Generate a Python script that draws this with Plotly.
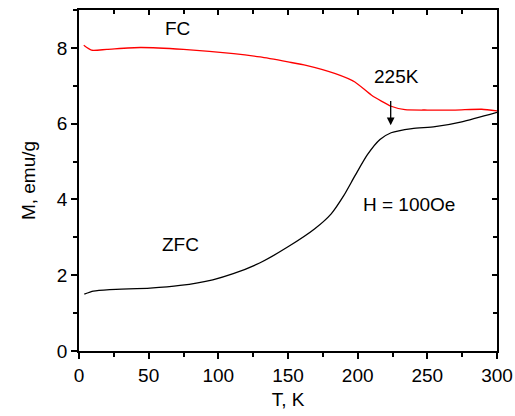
import plotly.graph_objects as go

fc_T = [3.4, 9, 20, 44, 75, 111, 130, 150, 163, 184, 198, 210, 224, 234, 250, 270, 289, 300]
fc_M = [8.07, 7.94, 7.96, 8.01, 7.96, 7.85, 7.76, 7.63, 7.54, 7.32, 7.10, 6.75, 6.46, 6.37, 6.36, 6.36, 6.38, 6.34]

zfc_T = [3.8, 10.3, 22, 51, 72.5, 96, 110.7, 130, 150, 169, 181, 190, 198, 207, 216, 224, 239, 255.5, 274.7, 300]
zfc_M = [1.50, 1.58, 1.62, 1.66, 1.73, 1.88, 2.04, 2.33, 2.75, 3.22, 3.62, 4.10, 4.62, 5.18, 5.58, 5.76, 5.87, 5.92, 6.05, 6.30]

x_ticks = [0, 50, 100, 150, 200, 250, 300]
y_ticks = [0, 2, 4, 6, 8]

font = "Liberation Sans, Arial, sans-serif"
FS = 19

fig = go.Figure()
fig.add_trace(go.Scatter(x=fc_T, y=fc_M, mode="lines", line=dict(color="#ff0000", width=1.3, shape="spline", smoothing=0.6), showlegend=False))
fig.add_trace(go.Scatter(x=zfc_T, y=zfc_M, mode="lines", line=dict(color="#000000", width=1.3, shape="spline", smoothing=0.6), showlegend=False))
fig.add_trace(go.Scatter(x=[None], y=[None], xaxis="x2", yaxis="y2", showlegend=False, hoverinfo="skip"))

axis_common = dict(showgrid=False, zeroline=False, showline=True, linecolor="black", linewidth=1.8,
                   tickcolor="black", tickwidth=1.5, automargin=False)
tfont = dict(family=font, size=FS, color="black")

fig.update_layout(
    width=515, height=416,
    margin=dict(l=79, r=18, t=10, b=65),
    paper_bgcolor="white", plot_bgcolor="white",
    font=dict(family=font, size=FS, color="black"),
    xaxis=dict(range=[0, 300], tickvals=x_ticks, ticks="outside", ticklen=6, tickfont=tfont,
               minor=dict(ticks="outside", ticklen=4, dtick=25, tickcolor="black", tickwidth=1.5),
               title=dict(text="T, K", font=tfont, standoff=8),
               **axis_common),
    yaxis=dict(range=[0, 9], tickvals=y_ticks, ticks="outside", ticklen=6, tickfont=tfont,
               minor=dict(ticks="outside", ticklen=4, dtick=1, tickcolor="black", tickwidth=1.5),
               title=dict(text="M, emu/g", font=tfont, standoff=16),
               **axis_common),
    xaxis2=dict(range=[0, 300], overlaying="x", side="top", tickvals=x_ticks, ticks="inside", ticklen=5,
                minor=dict(ticks="inside", ticklen=4, dtick=25, tickcolor="black", tickwidth=1.5),
                showticklabels=False, anchor="y2", **axis_common),
    yaxis2=dict(range=[0, 9], overlaying="y", side="right", tickvals=y_ticks, ticks="inside", ticklen=5,
                minor=dict(ticks="inside", ticklen=4, dtick=1, tickcolor="black", tickwidth=1.5),
                showticklabels=False, anchor="x2", **axis_common),
)

ann_font = dict(family=font, size=FS, color="black")
fig.add_annotation(x=71, y=8.5, text="FC", showarrow=False, font=ann_font)
fig.add_annotation(x=227.6, y=7.25, text="225K", showarrow=False, font=ann_font)
fig.add_annotation(x=237, y=3.86, text="H = 100Oe", showarrow=False, font=ann_font)
fig.add_annotation(x=73, y=2.8, text="ZFC", showarrow=False, font=ann_font)
fig.add_annotation(x=223.7, y=5.96, ax=223.7, ay=6.64, axref="x", ayref="y", xref="x", yref="y",
                   text="", showarrow=True, arrowhead=2, arrowsize=1.2, arrowwidth=1.3, arrowcolor="black")

fig.write_html("out.html")
